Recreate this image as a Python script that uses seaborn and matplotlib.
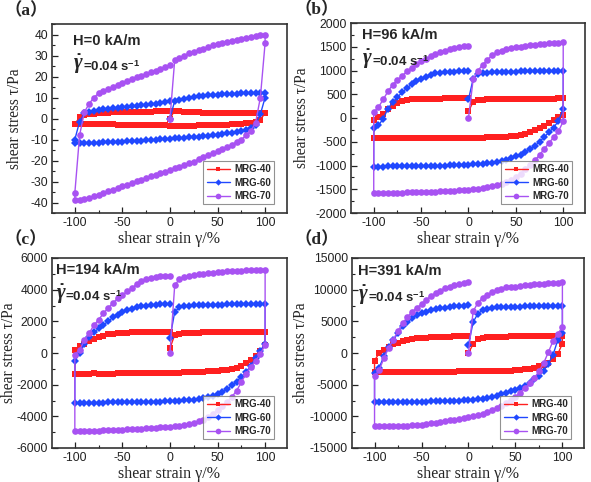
import matplotlib
matplotlib.use("Agg")
import matplotlib.pyplot as plt
import seaborn as sns
from matplotlib.ticker import MultipleLocator, AutoMinorLocator

# ---------------- data ----------------
# strain path: 0 -> 100, reversal, 100 -> -100, reversal, -100 -> 0
STRAIN = [0, 5, 10, 15, 20, 25, 30, 35, 40, 45, 50, 55, 60, 65, 70, 75, 80, 85, 90, 95, 100,
          100, 95, 90, 85, 80, 75, 70, 65, 60, 55, 50, 45, 40, 35, 30, 25, 20, 15, 10, 5, 0,
          -5, -10, -15, -20, -25, -30, -35, -40, -45, -50, -55, -60, -65, -70, -75, -80, -85, -90, -95, -100,
          -100, -95, -90, -85, -80, -75, -70, -65, -60, -55, -50, -45, -40, -35, -30, -25, -20, -15, -10, -5, 0]

SERIES = ["MRG-40", "MRG-60", "MRG-70"]
PANEL_LETTERS = ["（a）", "（b）", "（c）", "（d）"]
FIELDS = ["H=0 kA/m", "H=96 kA/m", "H=194 kA/m", "H=391 kA/m"]

A_40 = [0, 3.8, 3.6, 3.3, 3.1, 3.0, 2.9, 2.8, 2.7, 2.6, 2.6, 2.6, 2.6, 2.6, 2.6, 2.6, 2.6, 2.6, 2.7, 2.7, 2.7,
        2.5, -0.5, -1.5, -2, -2.3, -2.5, -2.7, -2.8, -2.9, -3, -3.1, -3.2, -3.2, -3.3, -3.3,
        -3.4, -3.4, -3.4, -3.4, -3.4, -3.4, -3.3, -3.3, -3.2, -3.2, -3.1, -3.1, -3.0, -3.0, -2.9,
        -2.9, -2.9, -2.8, -2.8, -2.8, -2.7, -2.7, -2.7, -2.7, -2.7, -2.7,
        -2.5, 0.5, 1.5, 2, 2.3, 2.5, 2.7, 2.8, 2.9, 3.0, 3.1, 3.1, 3.2, 3.2, 3.3, 3.3, 3.3, 3.4, 3.4, 3.4, 3.4]
A_60 = [0, 8.5, 9, 9.5, 9.9, 10.2, 10.5, 10.8, 11, 11.2, 11.4, 11.6, 11.7, 11.8, 11.9, 12, 12, 12.1, 12.1, 12.1, 12,
        10, 2, -3, -4.5, -5.3, -5.8, -6.3, -6.7, -7.1, -7.5, -7.8, -8, -8.2, -8.4, -8.6,
        -8.7, -8.9, -9.1, -9.3, -9.5, -9.6, -9.8, -9.9, -10.1, -10.3, -10.4, -10.5, -10.6, -10.8, -10.9,
        -11, -11.1, -11.2, -11.3, -11.4, -11.5, -11.6, -11.7, -11.8, -11.8, -11.9,
        -10, -1.5, 2.5, 3.3, 3.7, 4, 4.3, 4.6, 4.9, 5.1, 5.3, 5.5, 5.8, 6, 6.2, 6.4, 6.7, 7, 7.4, 7.9, 8.5]
A_70 = [0, 28, 29, 30, 31, 31.8, 32.5, 33.2, 34, 34.8, 35.5, 36, 36.6, 37.1, 37.6, 38, 38.5, 38.9, 39.3, 39.6, 40,
        36, 10, -2, -6, -8, -10, -11.2, -12.4, -13.5, -14.6, -15.7, -16.6, -17.5, -18.5, -19.5,
        -20.5, -21.3, -22.1, -22.9, -23.7, -24.5, -25.3, -26.1, -26.8, -27.5, -28.3, -29.1, -29.9, -30.7, -31.5,
        -32.3, -33.1, -33.9, -34.7, -35.5, -36.3, -37, -37.7, -38.3, -38.7, -39,
        -35.5, -8, 3, 7, 10, 12, 13, 14, 15, 16, 17, 18, 18.8, 19.6, 20.4, 21.2, 22, 22.8, 23.6, 24.5, 25.5]

B_40 = [140, 340, 370, 385, 392, 397, 400, 402, 404, 405, 406, 407, 408, 408, 409, 409, 410, 410, 410, 411, 411,
        60, 30, -40, -110, -170, -220, -260, -300, -330, -355, -370, -382, -392, -398, -403,
        -407, -410, -412, -414, -415, -416, -417, -418, -419, -419, -420, -420, -420, -420, -420,
        -420, -420, -420, -420, -420, -420, -420, -420, -420, -420, -420,
        -50, 20, 80, 190, 255, 320, 355, 378, 390, 396, 400, 403, 406, 408, 410, 411, 412, 413, 413, 414, 414]
B_60 = [390, 830, 920, 945, 955, 962, 966, 970, 973, 975, 977, 979, 980, 982, 983, 984, 985, 986, 987, 988, 990,
        190, -60, -200, -300, -400, -500, -590, -660, -720, -770, -810, -850, -880, -905, -925,
        -940, -950, -960, -968, -975, -980, -985, -990, -994, -998, -1001, -1004, -1006, -1008, -1010,
        -1012, -1014, -1015, -1016, -1018, -1019, -1020, -1021, -1022, -1023, -1025,
        -210, -150, -20, 200, 330, 440, 540, 630, 710, 770, 820, 870, 910, 940, 955, 965, 972, 977, 980, 983, 985]
B_70 = [0, 820, 1000, 1120, 1230, 1320, 1380, 1420, 1450, 1470, 1490, 1505, 1520, 1530, 1540, 1550, 1560, 1570, 1575, 1580, 1590,
        -70, -280, -400, -530, -650, -780, -890, -990, -1080, -1170, -1240, -1300, -1350, -1390, -1420,
        -1440, -1460, -1475, -1490, -1500, -1510, -1520, -1525, -1530, -1535, -1540, -1545, -1550, -1553, -1556,
        -1560, -1562, -1565, -1568, -1570, -1572, -1574, -1576, -1578, -1579, -1580,
        120, 230, 390, 560, 700, 800, 890, 980, 1060, 1130, 1190, 1250, 1300, 1350, 1390, 1420, 1450, 1475, 1495, 1510, 1520]

C_40 = [300, 1150, 1230, 1260, 1275, 1285, 1292, 1298, 1302, 1306, 1310, 1313, 1316, 1319, 1322, 1325, 1328, 1331, 1334, 1337, 1340,
        500, 150, -200, -420, -650, -820, -920, -1000, -1050, -1090, -1120, -1145, -1165, -1180, -1195,
        -1205, -1215, -1225, -1232, -1240, -1247, -1253, -1258, -1263, -1268, -1272, -1276, -1280, -1284, -1287,
        -1290, -1293, -1296, -1299, -1302, -1305, -1280, -1320, -1325, -1330, -1335,
        200, 450, 600, 760, 900, 1000, 1100, 1170, 1220, 1255, 1275, 1290, 1302, 1312, 1320, 1327, 1333, 1338, 1342, 1345, 1348]
C_60 = [950, 2600, 2880, 2950, 2990, 3010, 3025, 3035, 3045, 3050, 3055, 3060, 3065, 3070, 3075, 3080, 3085, 3090, 3095, 3100, 3110,
        600, 150, -300, -800, -1200, -1500, -1800, -2050, -2280, -2450, -2600, -2700, -2780, -2850, -2900,
        -2940, -2970, -2995, -3015, -3030, -3045, -3055, -3065, -3075, -3080, -3085, -3090, -3095, -3100, -3105,
        -3110, -3115, -3120, -3125, -3130, -3135, -3140, -3145, -3150, -3155, -3160,
        -500, 0, 600, 1000, 1300, 1550, 1780, 2000, 2250, 2430, 2580, 2700, 2800, 2880, 2940, 2990, 3030, 3060, 3080, 3095, 3100]
C_70 = [0, 4300, 4650, 4780, 4860, 4910, 4960, 5000, 5040, 5080, 5110, 5135, 5160, 5180, 5195, 5205, 5215, 5225, 5235, 5245, 5260,
        500, -50, -500, -900, -1300, -1850, -2380, -2780, -3080, -3350, -3620, -3850, -4050, -4200, -4320,
        -4420, -4490, -4550, -4590, -4620, -4650, -4680, -4700, -4720, -4740, -4760, -4780, -4800, -4815, -4830,
        -4845, -4860, -4870, -4880, -4890, -4900, -4910, -4920, -4930, -4940, -4950,
        -100, 200, 800, 1250, 1750, 2100, 2500, 2850, 3150, 3450, 3650, 3900, 4100, 4350, 4550, 4680, 4760, 4810, 4840, 4860, 4870]

D_40 = [0, 1400, 2200, 2400, 2480, 2530, 2560, 2580, 2600, 2615, 2625, 2635, 2640, 2645, 2650, 2650, 2655, 2660, 2660, 2665, 2670,
        1500, -200, -900, -1500, -1850, -2100, -2350, -2500, -2600, -2680, -2730, -2770, -2800, -2820, -2840,
        -2855, -2870, -2880, -2890, -2900, -2910, -2915, -2920, -2925, -2930, -2933, -2936, -2939, -2942, -2944,
        -2946, -2948, -2950, -2952, -2954, -2955, -2956, -2957, -2958, -2959, -2960,
        -1200, 0, 400, 900, 1400, 1650, 1850, 2050, 2200, 2300, 2380, 2440, 2490, 2530, 2560, 2585, 2605, 2620, 2635, 2645, 2655]
D_60 = [1300, 4900, 6200, 6750, 7000, 7130, 7200, 7240, 7270, 7290, 7310, 7330, 7350, 7370, 7390, 7400, 7420, 7430, 7440, 7450, 7460,
        3100, 2000, -300, -1700, -2800, -3600, -4150, -4700, -5200, -5550, -5800, -6050, -6300, -6550, -6750,
        -6900, -7050, -7200, -7300, -7370, -7420, -7460, -7500, -7530, -7560, -7590, -7610, -7630, -7650, -7665,
        -7680, -7695, -7710, -7720, -7730, -7740, -7750, -7760, -7765, -7770, -7780,
        -3200, -2300, -500, 900, 2000, 3200, 4200, 4900, 5500, 6000, 6300, 6550, 6750, 6900, 7050, 7170, 7270, 7350, 7420, 7470, 7510]
D_70 = [0, 6600, 7900, 8700, 9200, 9600, 9900, 10150, 10350, 10450, 10500, 10600, 10700, 10800, 10870, 10920, 10970, 11020, 11070, 11120, 11180,
        4100, 3000, 1900, 100, -1600, -2900, -4000, -4800, -5550, -6250, -6950, -7450, -7930, -8350, -8700,
        -9050, -9350, -9600, -9800, -9950, -10050, -10200, -10350, -10500, -10650, -10800, -10900, -11000, -11100, -11200,
        -11300, -11350, -11400, -11450, -11480, -11510, -11540, -11560, -11580, -11590, -11600,
        -3700, -2700, -800, 800, 2100, 3500, 4700, 5700, 6500, 7150, 7700, 8400, 9000, 9450, 9850, 10200, 10500, 10750, 10950, 11100, 11180]

PANEL_DATA = [[A_40, A_60, A_70], [B_40, B_60, B_70], [C_40, C_60, C_70], [D_40, D_60, D_70]]
YLIMS = [(-45, 45), (-2000, 2000), (-6000, 6000), (-15000, 15000)]
YSTEPS = [10, 500, 2000, 5000]

# ---------------- style ----------------
sns.set_theme(style="white")
plt.rcParams['font.family'] = ['Liberation Sans', 'DejaVu Sans']
plt.rcParams['axes.unicode_minus'] = False
plt.rcParams['mathtext.fontset'] = 'custom'
plt.rcParams['mathtext.rm'] = 'Liberation Sans:bold'
plt.rcParams['mathtext.it'] = 'Liberation Serif:italic:bold'
plt.rcParams['mathtext.bf'] = 'Liberation Sans:bold'

COLORS = ["#FF2020", "#2048FF", "#A852F2"]
MARKERS = ["s", "D", "o"]
MSIZES = [4.2, 3.8, 4.8]

fig = plt.figure(figsize=(5.91, 4.82), dpi=100)
W, H = 591.0, 482.0
boxes = [(52, 287, 24, 213), (351, 585, 23, 213), (52, 287, 258, 448), (352, 584, 258, 448)]
letter_pos = [(4, 11), (294, 10), (4, 240), (294, 240)]
ylabel_x = [-0.125, -0.175, -0.15, -0.185]
serif = ['Liberation Serif', 'DejaVu Serif']

for i in range(4):
    l, r, t, b = boxes[i]
    ax = fig.add_axes([l / W, 1 - b / H, (r - l) / W, (b - t) / H])
    for j in range(3):
        sns.lineplot(x=STRAIN, y=PANEL_DATA[i][j], ax=ax, sort=False, estimator=None,
                     color=COLORS[j], marker=MARKERS[j], markersize=MSIZES[j],
                     markeredgewidth=0, linewidth=1.0, label=SERIES[j])
    ax.set_xlim(-124, 123)
    ax.set_ylim(*YLIMS[i])
    ax.xaxis.set_major_locator(MultipleLocator(50))
    ax.xaxis.set_minor_locator(AutoMinorLocator(2))
    ax.yaxis.set_major_locator(MultipleLocator(YSTEPS[i]))
    ax.yaxis.set_minor_locator(AutoMinorLocator(2))
    ax.tick_params(which='both', direction='in', bottom=True, left=True, top=False, right=False,
                   colors='#222222', labelsize=8.7, pad=3)
    ax.tick_params(which='major', length=4, width=0.9)
    ax.tick_params(which='minor', length=2.2, width=0.8)
    for s in ax.spines.values():
        s.set_color('#333333')
        s.set_linewidth(1.2)
    ax.set_xlabel("shear strain γ/%", family=serif, fontsize=11.5, labelpad=1)
    ax.set_ylabel("shear stress τ/Pa", family=serif, fontsize=11.2)
    ax.yaxis.set_label_coords(ylabel_x[i], 0.5)

    tx = [0.088, 0.047, 0.015, 0.026][i]
    ty = [0.912, 0.935, 0.935, 0.93][i]
    ax.text(tx, ty, FIELDS[i], transform=ax.transAxes, fontsize=10.5, fontweight='bold',
            ha='left', va='center')
    g = ax.text(tx, ty - 0.125, r"$\dot{\gamma}$", transform=ax.transAxes,
                fontsize=15, ha='left', va='center')
    ax.annotate(r"=0.04 s$^{-1}$", xy=(0.92, 0.38), xycoords=g, fontsize=9.5,
                fontweight='bold', ha='left', va='center')

    leg = ax.legend(loc='lower right', bbox_to_anchor=(0.945, 0.045), fontsize=7,
                    prop={'weight': 'bold', 'size': 7}, frameon=True, fancybox=False,
                    edgecolor='#777777', borderpad=0.35, labelspacing=0.35,
                    handlelength=2.4, handletextpad=0.4, markerscale=0.85, borderaxespad=0)
    leg.get_frame().set_linewidth(0.8)

    fx, fy = letter_pos[i]
    fig.text(fx / W, 1 - fy / H, PANEL_LETTERS[i], family=['Liberation Serif', 'Noto Sans CJK SC'],
             fontsize=12.5, fontweight='bold', ha='left', va='center')

fig.savefig("out.png", dpi=100)
